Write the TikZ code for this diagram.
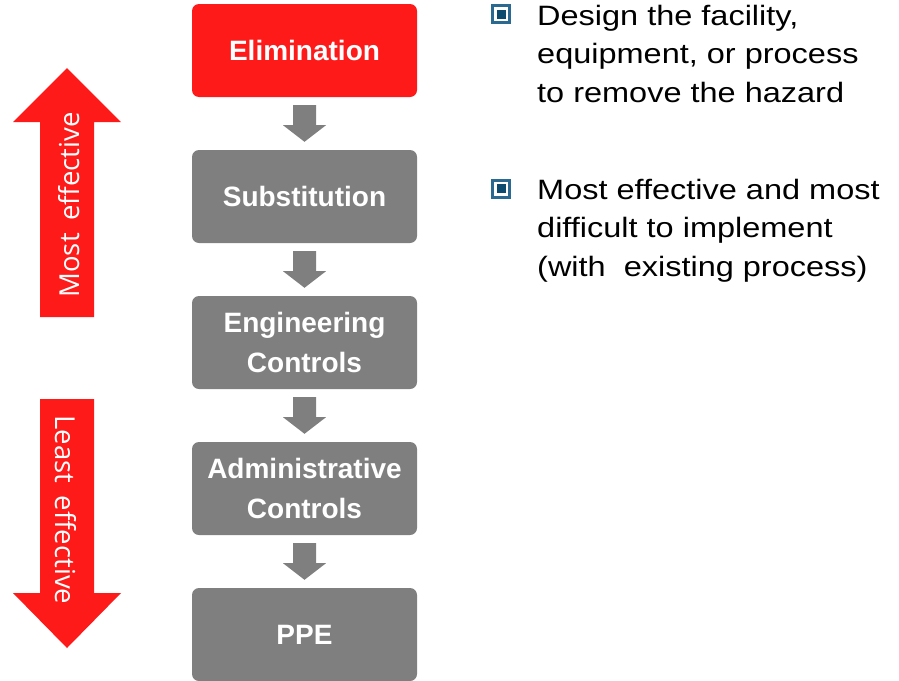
\documentclass[tikz,border=0pt]{standalone}
\usepackage{fontspec}
\usepackage{graphicx}
\setmainfont{Liberation Sans}
\newfontfamily\labelfont{Open Sans}
\usetikzlibrary{calc}
\definecolor{hazred}{HTML}{FF1A1A}
\definecolor{boxgray}{HTML}{7F7F7F}
\definecolor{bulletouter}{HTML}{2A6A90}
\definecolor{bulletinner}{HTML}{0C4A6E}

% block arrow pointing down from one level box to the next
\newcommand\flowarrow[2]{%
  \fill[boxgray]
    ($(#1.south)+(-11.5,8)$) -- ($(#1.south)+(11.5,8)$) --
    ($(#1.south)+(11.5,28)$) -- ($(#1.south)+(21.5,28)$) --
    ($(#2.north)+(0,-8)$) --
    ($(#1.south)+(-21.5,28)$) -- ($(#1.south)+(-11.5,28)$) -- cycle;}

\begin{document}
\begin{tikzpicture}[x=1pt,y=-1pt,
  level/.style={rounded corners=7pt, minimum width=225pt, minimum height=93pt,
    inner sep=0pt, text=white, align=center, fill=boxgray,
    font=\bfseries\fontsize{28}{40.5}\selectfont},
  sidelabel/.style={text=white, inner sep=0pt, anchor=base,
    font=\labelfont\fontsize{27.5}{32}\selectfont},
  bulletbox/.style={draw=bulletouter, line width=3pt, fill=white,
    minimum size=17pt, inner sep=0pt,
    path picture={\fill[bulletinner] (path picture bounding box.center)
      +(-4.5,-4.5) rectangle +(4.5,4.5);}},
  bullettext/.style={anchor=base west, inner sep=0pt,
    font=\fontsize{28}{38.5}\selectfont}
]
\useasboundingbox (0,0) rectangle (899,680);

% hierarchy of controls
\node[level, fill=hazred] (elim) at (304.5,50.5) {Elimination};
\node[level] (subst) at (304.5,196.5) {Substitution};
\node[level] (eng) at (304.5,342.5) {Engineering\\Controls};
\node[level] (admin) at (304.5,488.5) {Administrative\\Controls};
\node[level] (ppe) at (304.5,634.5) {PPE};

\flowarrow{elim}{subst}
\flowarrow{subst}{eng}
\flowarrow{eng}{admin}
\flowarrow{admin}{ppe}

% effectiveness arrows
\fill[hazred] (40,317) -- (40,122) -- (13,122) -- (67,68) -- (121,122)
  -- (94,122) -- (94,317) -- cycle;
\fill[hazred] (40,399) -- (94,399) -- (94,593) -- (121,593) -- (67,648)
  -- (13,593) -- (40,593) -- cycle;
\node[sidelabel, rotate=90] (most) at (79,205) {Most\hspace{0.45em}effective};
\node[sidelabel, rotate=-90] (least) at (55,510) {Least\hspace{0.45em}effective};

% notes on elimination
\node[bulletbox] (b1) at (501,14) {};
\node[bullettext] (t1) at (537,25) {\scalebox{1.16}[1]{%
  \begin{tabular}[t]{@{}l@{}}Design the facility,\\equipment, or process\\
  to remove the hazard\end{tabular}}};
\node[bulletbox] (b2) at (501,188.5) {};
\node[bullettext] (t2) at (537,199) {\scalebox{1.16}[1]{%
  \begin{tabular}[t]{@{}l@{}}Most effective and most\\difficult to implement\\
  (with\ \ existing process)\end{tabular}}};
\end{tikzpicture}
\end{document}
